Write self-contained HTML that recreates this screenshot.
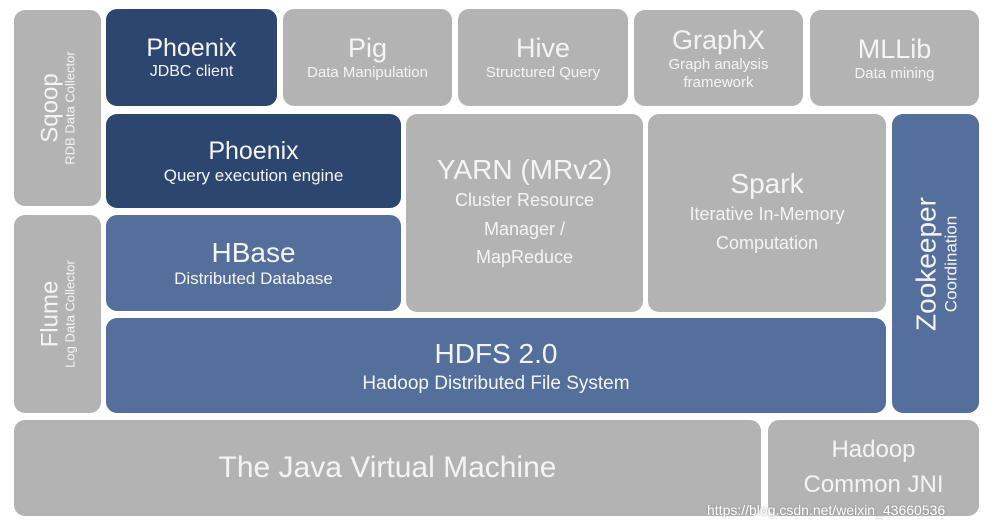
<!DOCTYPE html>
<html><head><meta charset="utf-8"><style>
html,body{margin:0;padding:0;background:#fff;width:991px;height:530px;overflow:hidden;position:relative;font-family:"Liberation Sans",sans-serif;}
.b{position:absolute;border-radius:11px;display:flex;flex-direction:column;align-items:center;justify-content:center;text-align:center;color:#f4f4f4;line-height:1.15;}
.g{background:#b3b3b3;}
.d{background:#2c4670;}
.m{background:#546f9c;}
.t{font-size:25px;}
.s{font-size:15px;}
.r{position:absolute;left:50%;top:50%;transform:translate(-50%,-50%) rotate(-90deg);white-space:nowrap;display:flex;flex-direction:column;align-items:center;line-height:1.1;}
.wm{position:absolute;left:707px;top:502px;font-size:14px;color:#fff;text-shadow:0 0 2px #888;}
</style></head><body>
<div class="b g" style="left:14px;top:10px;width:87px;height:196px"><div class="r"><span style="font-size:24px">Sqoop</span><span style="font-size:13px">RDB Data Collector</span></div></div>
<div class="b g" style="left:14px;top:215px;width:87px;height:198px"><div class="r"><span style="font-size:24px">Flume</span><span style="font-size:13px">Log Data Collector</span></div></div>

<div class="b d" style="left:106px;top:9px;width:171px;height:97px"><span class="t">Phoenix</span><span class="s" style="font-size:16px">JDBC client</span></div>
<div class="b g" style="left:283px;top:9px;width:169px;height:97px"><span class="t" style="font-size:27px">Pig</span><span class="s">Data Manipulation</span></div>
<div class="b g" style="left:458px;top:9px;width:170px;height:97px"><span class="t" style="font-size:27px">Hive</span><span class="s">Structured Query</span></div>
<div class="b g" style="left:634px;top:10px;width:169px;height:96px"><span class="t" style="font-size:27px">GraphX</span><span class="s">Graph analysis<br>framework</span></div>
<div class="b g" style="left:810px;top:10px;width:169px;height:96px"><span class="t" style="font-size:27px">MLLib</span><span class="s">Data mining</span></div>

<div class="b d" style="left:106px;top:114px;width:295px;height:94px"><span class="t">Phoenix</span><span class="s" style="font-size:17px">Query execution engine</span></div>
<div class="b m" style="left:106px;top:215px;width:295px;height:96px"><span class="t" style="font-size:28px">HBase</span><span class="s" style="font-size:17px">Distributed Database</span></div>
<div class="b g" style="left:406px;top:114px;width:237px;height:198px"><span class="t" style="font-size:28px">YARN (MRv2)</span><span class="s" style="font-size:18px;line-height:1.6">Cluster Resource<br>Manager /<br>MapReduce</span></div>
<div class="b g" style="left:648px;top:114px;width:238px;height:198px"><span class="t" style="font-size:28px">Spark</span><span class="s" style="font-size:18px;line-height:1.6">Iterative In-Memory<br>Computation</span></div>
<div class="b m" style="left:892px;top:114px;width:87px;height:299px"><div class="r"><span style="font-size:28px">Zookeeper</span><span style="font-size:17px">Coordination</span></div></div>
<div class="b m" style="left:106px;top:318px;width:780px;height:95px"><span class="t" style="font-size:28px;line-height:1.3">HDFS 2.0</span><span class="s" style="font-size:19px">Hadoop Distributed File System</span></div>

<div class="b g" style="left:14px;top:420px;width:747px;height:96px"><span style="font-size:30px">The Java Virtual Machine</span></div>
<div class="b g" style="left:768px;top:420px;width:211px;height:96px"><span style="font-size:24px;line-height:1.45">Hadoop<br>Common JNI</span></div>
<div class="wm">https://blog.csdn.net/weixin_43660536</div>
</body></html>
